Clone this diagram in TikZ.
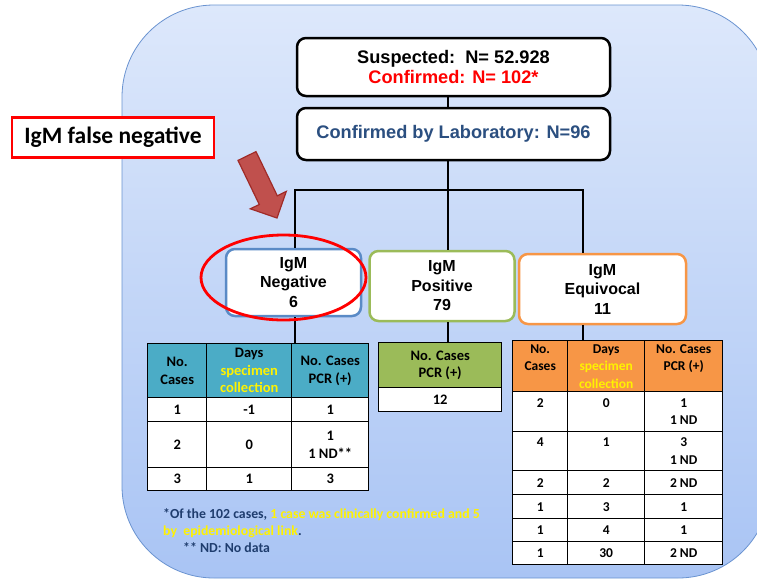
\documentclass[tikz,border=0pt]{standalone}
\usepackage{fontspec}
\setmainfont{Liberation Sans}
\newfontfamily\calibri{Carlito}

\definecolor{bgtop}{HTML}{DDE8FB}
\definecolor{bgbot}{HTML}{A9C4F4}
\definecolor{bgline}{HTML}{6A93D0}
\definecolor{confred}{HTML}{FF0000}
\definecolor{labblue}{HTML}{2B4F80}
\definecolor{negblue}{HTML}{5A8AC6}
\definecolor{posgreen}{HTML}{9BBB59}
\definecolor{eqorange}{HTML}{F79646}
\definecolor{negteal}{HTML}{4BACC6}
\definecolor{arrowred}{HTML}{C0504D}
\definecolor{arrowedge}{HTML}{A02B28}
\definecolor{notecol}{HTML}{1F3D6E}

\tikzset{
  flowbox/.style={draw=black, line width=2.5pt, rounded corners=9pt, fill=white, inner sep=0pt, align=center},
  igmbox/.style={line width=2.5pt, rounded corners=9pt, fill=white, inner sep=0pt, align=center,
    font=\bfseries\fontsize{16}{19.5}\selectfont},
  conn/.style={line width=2.3pt},
  cell/.style={draw=black, line width=1.4pt, anchor=north west, inner sep=0pt, align=center},
}

\begin{document}
\begin{tikzpicture}[x=1pt, y=-1pt]
    \useasboundingbox (0,0) rectangle (757,579);

    \shade[top color=bgtop, bottom color=bgbot, draw=bgline, line width=0.8pt, rounded corners=92pt]
        (122,5) rectangle (770,578);

    % flow boxes
    \node[flowbox, minimum width=313, minimum height=58, font=\bfseries\fontsize{18.2}{20}\selectfont]
        (suspect) at (453.5,67) {Suspected:\ \ N= 52.928\\\textcolor{confred}{Confirmed: N= 102*}};
    \node[flowbox, minimum width=313, minimum height=52, text=labblue, font=\bfseries\fontsize{18.2}{20}\selectfont]
        (lab) at (453.5,134) {Confirmed by Laboratory: N=96};

    \node[igmbox, draw=negblue, minimum width=135, minimum height=67] (neg) at (293.5,282.5) {IgM\\Negative\\6};
    \node[igmbox, draw=posgreen, minimum width=145, minimum height=70] (pos) at (442,286) {IgM\\Positive\\79};
    \node[igmbox, draw=eqorange, minimum width=167, minimum height=70] (equiv) at (602.5,289) {IgM\\Equivocal\\11};

    \coordinate (negline) at (295,190);
    \coordinate (stem) at (448,190);
    \coordinate (eqline) at (583,190);

    \draw[conn] (suspect.south -| stem) -- (lab.north -| stem);
    \draw[conn] (lab.south -| stem) -- (stem) -- (pos.north -| stem);
    \draw[conn] (neg.north -| negline) -- (negline) -- (eqline) -- (equiv.north -| eqline);

    % IgM negative table
    \begin{scope}[font=\calibri\bfseries\fontsize{14.5}{17.5}\selectfont]
        \node[cell, fill=negteal, minimum width=59, minimum height=54] (negh1) at (147,343) {No.\\Cases};
        \node[cell, fill=negteal, minimum width=85, minimum height=54] (negh2) at (206,343)
            {Days\\\textcolor{yellow}{specimen}\\\textcolor{yellow}{collection}};
        \node[cell, fill=negteal, minimum width=77, minimum height=54] (negh3) at (291,343) {No. Cases\\PCR (+)};
        \foreach \y/\h/\a/\b/\c [count=\i] in {397/24/1/-1/1, 421/46/2/0/{1\\1 ND**}, 467/23/3/1/3} {
            \node[cell, fill=white, minimum width=59, minimum height=\h] (negA\i) at (147,\y) {\a};
            \node[cell, fill=white, minimum width=85, minimum height=\h] (negB\i) at (206,\y) {\b};
            \node[cell, fill=white, minimum width=77, minimum height=\h] (negC\i) at (291,\y) {\c};
        }

        % IgM positive table
        \node[cell, fill=posgreen, minimum width=123, minimum height=45] (posh) at (378,342) {No. Cases\\PCR (+)};
        \node[cell, fill=white, minimum width=123, minimum height=24] (posA1) at (378,387) {12};
    \end{scope}

    % IgM equivocal table
    \begin{scope}[font=\calibri\bfseries\fontsize{13.5}{17.5}\selectfont]
        \node[cell, fill=eqorange, minimum width=55, minimum height=51] (eqh1) at (512,340) {No.\\Cases\\\mbox{}};
        \node[cell, fill=eqorange, minimum width=77, minimum height=51] (eqh2) at (567,340)
            {Days\\\textcolor{yellow}{specimen}\\\textcolor{yellow}{collection}};
        \node[cell, fill=eqorange, minimum width=78, minimum height=51] (eqh3) at (644,340) {No. Cases\\PCR (+)\\\mbox{}};
        \foreach \y/\h/\a/\b/\c [count=\i] in {391/40/{2\\\mbox{}}/{0\\\mbox{}}/{1\\1 ND},
                431/39/{4\\\mbox{}}/{1\\\mbox{}}/{3\\1 ND}, 470/24/2/2/2 ND, 494/24/1/3/1,
                518/23/1/4/1, 541/23/1/30/2 ND} {
            \node[cell, fill=white, minimum width=55, minimum height=\h] (eqA\i) at (512,\y) {\a};
            \node[cell, fill=white, minimum width=77, minimum height=\h] (eqB\i) at (567,\y) {\b};
            \node[cell, fill=white, minimum width=78, minimum height=\h] (eqC\i) at (644,\y) {\c};
        }
    \end{scope}

    \draw[conn] (neg.south -| negline) -- (negh1.north -| negline);
    \draw[conn] (pos.south -| stem) -- (posh.north -| stem);
    \draw[conn] (equiv.south -| eqline) -- (eqh1.north -| eqline);

    % footnote
    \node[anchor=north west, align=left, inner sep=0pt, text=notecol,
        font=\calibri\bfseries\fontsize{13.8}{17}\selectfont] (note) at (163,508)
        {*Of the 102 cases, \textcolor{yellow}{1 case was clinically confirmed and 5}\\
         \textcolor{yellow}{by\ \ epidemiological link}.\\
         \hspace*{20pt}** ND: No data};

    % false negative mark
    \node[draw=confred, line width=2.5pt, fill=white, minimum width=202, minimum height=40, inner sep=0pt,
        font=\calibri\bfseries\fontsize{23.5}{28}\selectfont] (falseneg) at (113,137.5) {IgM false negative};
    \draw[draw=arrowedge, fill=arrowred, line width=1.2pt]
        (256,151.6) -- (277.3,195.8) -- (286.3,191.4) -- (277,218) -- (250.3,208.8) -- (259.3,204.5) -- (238,160.4) -- cycle;
    \draw[confred, line width=2.8pt] (283.5,277.5) ellipse [x radius=82.5, y radius=42.5];
\end{tikzpicture}
\end{document}
